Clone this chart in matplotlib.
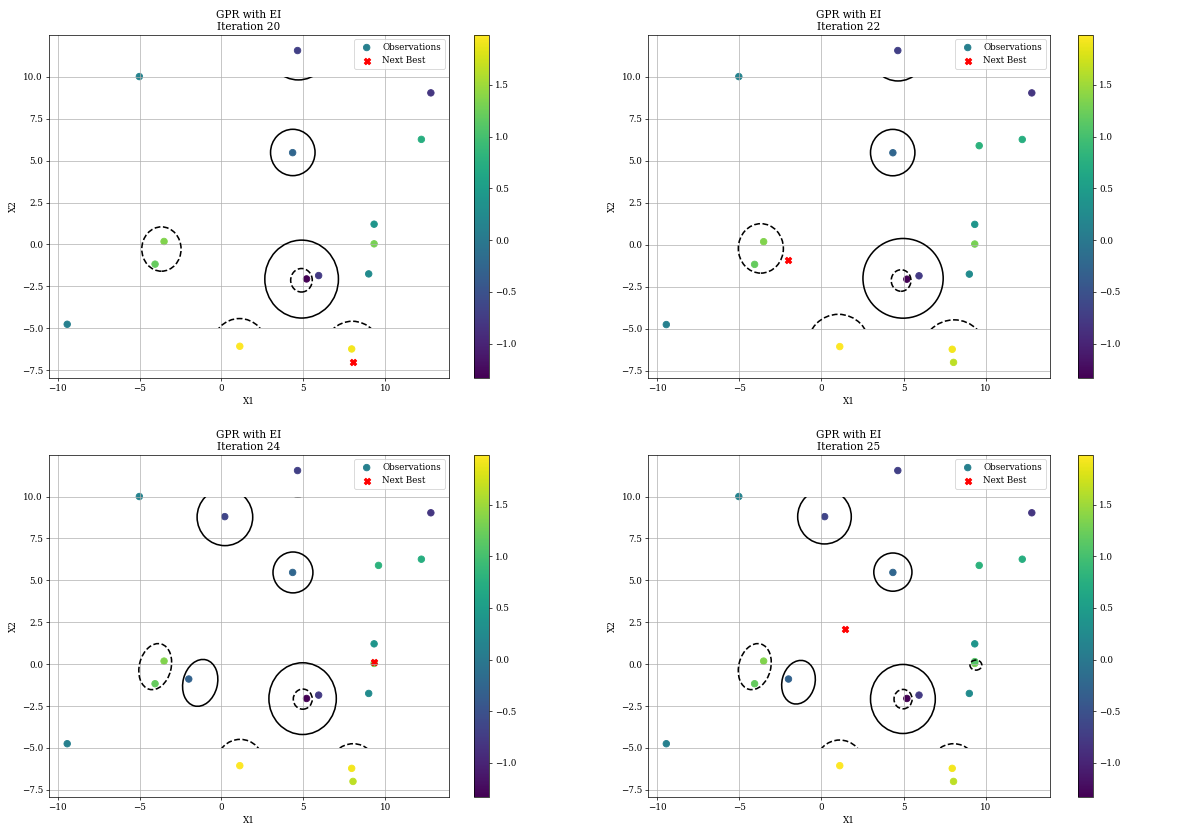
import matplotlib
matplotlib.use("Agg")
import matplotlib.pyplot as plt
from matplotlib.patches import Ellipse, Rectangle

plt.rcParams['font.family'] = 'serif'

iterations = [20, 22, 24, 25]
n_obs = [15, 17, 19, 20]

# observations in the order they were sampled
obs_x1 = [-9.43, -5.02, 4.65, 12.8, 12.22, 4.35, 9.33, -3.51, 9.33, -4.06,
          5.2, 5.94, 9.0, 1.12, 7.96, 8.04, 9.6, -2.0, 0.2, 9.33]
obs_x2 = [-4.75, 10.0, 11.55, 9.03, 6.26, 5.47, 1.21, 0.18, 0.04, -1.17,
          -2.05, -1.85, -1.75, -6.06, -6.22, -7.0, 5.89, -0.89, 8.8, 0.15]
obs_y = [0.1, 0.15, -0.7, -0.8, 0.75, -0.25, 0.4, 1.35, 1.3, 1.2,
         -1.33, -0.75, 0.25, 1.98, 1.92, 1.65, 0.8, -0.3, -0.65, 1.1]

next_x1 = [8.04, -2.0, 9.33, 1.43]
next_x2 = [-7.02, -0.89, 0.15, 2.1]

# level curves of the surrogate: centre x1, centre x2, width, height, angle, dashed
levels_20 = [(4.7, 11.7, 3.8, 3.8, 0, False), (4.36, 5.48, 2.72, 2.76, 0, False),
             (-3.67, -0.27, 2.4, 2.64, 0, True), (4.9, -2.06, 4.5, 4.64, 0, False),
             (4.89, -2.13, 1.32, 1.4, 0, True), (1.1, -6.07, 3.32, 3.32, 0, True),
             (8.0, -6.3, 3.46, 3.46, 0, True)]
levels_22 = [(4.66, 11.43, 3.38, 3.38, 0, False), (4.34, 5.48, 2.7, 2.76, 0, False),
             (-3.68, -0.22, 2.74, 2.94, 0, True), (4.97, -2.0, 4.88, 4.74, 0, False),
             (4.85, -2.13, 1.2, 1.28, 0, True), (1.04, -6.04, 3.8, 3.8, 0, True),
             (8.07, -6.48, 4.02, 4.02, 0, True)]
levels_24 = [(4.67, 11.6, 3.2, 3.2, 0, False), (0.21, 8.77, 3.4, 3.4, 0, False),
             (4.37, 5.47, 2.44, 2.44, 0, False), (-4.05, -0.15, 2.8, 1.94, 75, True),
             (-1.3, -1.12, 2.84, 2.1, 75, False), (4.96, -2.06, 4.12, 4.28, 0, False),
             (4.97, -2.09, 1.16, 1.2, 0, True), (1.14, -5.93, 2.88, 2.88, 0, True),
             (8.05, -6.19, 2.88, 2.88, 0, True)]
levels_25 = [(0.19, 8.8, 3.26, 3.26, 0, False), (4.35, 5.49, 2.32, 2.28, 0, False),
             (-4.05, -0.15, 2.8, 1.94, 75, True), (-1.39, -1.08, 2.64, 2.0, 75, False),
             (4.96, -2.08, 3.94, 4.12, 0, False), (4.97, -2.09, 1.1, 1.16, 0, True),
             (9.4, -0.06, 0.72, 0.6, 0, True), (1.11, -5.98, 2.9, 2.9, 0, True),
             (8.04, -6.19, 2.88, 2.88, 0, True)]
all_levels = [levels_20, levels_22, levels_24, levels_25]

# surrogate grid was evaluated on x2 in [-5, 10]
grid_x2 = (-5, 10)

dpi = 63
fig = plt.figure(figsize=(1193 / dpi, 830 / dpi), dpi=dpi)

ax_rects = [(0.0411, 0.5446, 0.3353, 0.4133), (0.5432, 0.5446, 0.3370, 0.4133),
            (0.0411, 0.0398, 0.3353, 0.4120), (0.5432, 0.0398, 0.3370, 0.4120)]
cb_rects = [(0.3973, 0.5446, 0.0126, 0.4133), (0.9036, 0.5446, 0.0126, 0.4133),
            (0.3973, 0.0398, 0.0126, 0.4120), (0.9036, 0.0398, 0.0126, 0.4120)]

for i in range(4):
    ax = fig.add_axes(ax_rects[i])
    cax = fig.add_axes(cb_rects[i])
    n = n_obs[i]
    sc = ax.scatter(obs_x1[:n], obs_x2[:n], c=obs_y[:n], cmap='viridis', s=55,
                    label='Observations')
    ax.scatter([next_x1[i]], [next_x2[i]], c='red', marker='X', s=55, label='Next Best')
    ax.autoscale_view()
    ax.set_autoscale_on(False)
    xl = ax.get_xlim()
    clip = Rectangle((xl[0], grid_x2[0]), xl[1] - xl[0], grid_x2[1] - grid_x2[0],
                     transform=ax.transData)
    for cx, cy, w, h, ang, dashed in all_levels[i]:
        e = Ellipse((cx, cy), w, h, angle=ang, fill=False, edgecolor='black',
                    linewidth=1.8, linestyle='--' if dashed else '-', zorder=2)
        ax.add_patch(e)
        e.set_clip_path(clip)
    ax.grid(True)
    ax.set_title('GPR with EI\nIteration %d' % iterations[i])
    ax.set_xlabel('X1')
    ax.set_ylabel('X2')
    ax.legend(loc='upper right')
    fig.colorbar(sc, cax=cax)

fig.savefig('out.png', dpi=dpi)
